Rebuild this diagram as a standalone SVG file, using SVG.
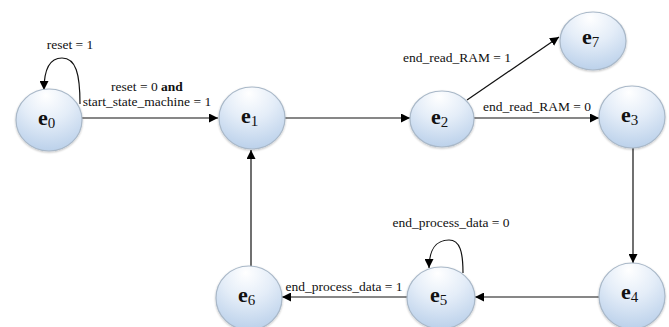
<svg xmlns="http://www.w3.org/2000/svg" width="669" height="327" viewBox="0 0 669 327">
  <defs>
    <radialGradient id="nodeFill" cx="0.5" cy="0.2" r="0.85" fx="0.45" fy="0.1">
      <stop offset="0" stop-color="#ffffff"/>
      <stop offset="0.45" stop-color="#e4edf8"/>
      <stop offset="1" stop-color="#b7cee9"/>
    </radialGradient>
    <filter id="soft" x="-20%" y="-20%" width="140%" height="140%">
      <feGaussianBlur in="SourceAlpha" stdDeviation="1.2"/>
      <feOffset dx="0" dy="1" result="b"/>
      <feComponentTransfer><feFuncA type="linear" slope="0.25"/></feComponentTransfer>
      <feMerge><feMergeNode/><feMergeNode in="SourceGraphic"/></feMerge>
    </filter>
    <marker id="arrow" viewBox="0 0 10 10" refX="10" refY="5" markerWidth="9" markerHeight="9" markerUnits="userSpaceOnUse" orient="auto">
      <path d="M0,0 L10,5 L0,10 Z" fill="#000"/>
    </marker>
  </defs>
  <style>
    text { font-family: "Liberation Serif", "DejaVu Serif", "Times New Roman", serif; fill: #111; }
    .node ellipse { fill: url(#nodeFill); stroke: #a9b8c8; stroke-width: 1.2; filter: url(#soft); }
    .name { font-weight: bold; font-size: 22px; }
    .idx { font-size: 15px; }
    .edge { fill: none; stroke: #111; stroke-width: 1.2; marker-end: url(#arrow); }
    .lbl { font-size: 13.5px; text-anchor: middle; }
  </style>
  <rect width="669" height="327" fill="#fff"/>

  <!-- transitions -->
  <g id="connectors">
    <path class="edge" d="M80,104 C80,74 76,58 62,58 C50,58 44,68 44,90"/>
    <path class="edge" d="M82,118 L218,118"/>
    <path class="edge" d="M285,118 L410,118"/>
    <path class="edge" d="M467,100 L559,37"/>
    <path class="edge" d="M474,118 L599,118"/>
    <path class="edge" d="M633,148 L633,263"/>
    <path class="edge" d="M599,297 L475,297"/>
    <path class="edge" d="M408,297 L282,297"/>
    <path class="edge" d="M463,273 C463,252 460,240 449,240 C436,240 429,250 429,268"/>
    <path class="edge" d="M251,266 L251,150"/>

    <text class="lbl" x="70" y="49" font-family="Liberation Serif, serif">reset = 1</text>
    <text class="lbl" x="147" y="91" font-family="Liberation Serif, serif">reset = 0 <tspan font-weight="bold">and</tspan></text>
    <text class="lbl" x="147" y="106" font-family="Liberation Serif, serif">start_state_machine = 1</text>
    <text class="lbl" x="457" y="62" font-family="Liberation Serif, serif">end_read_RAM = 1</text>
    <text class="lbl" x="537" y="111" font-family="Liberation Serif, serif">end_read_RAM = 0</text>
    <text class="lbl" x="451" y="227" font-family="Liberation Serif, serif">end_process_data = 0</text>
    <text class="lbl" x="344" y="291" font-family="Liberation Serif, serif">end_process_data = 1</text>
  </g>

  <g id="e0" class="node">
    <ellipse cx="49" cy="120" rx="33" ry="31"/>
    <text x="38" y="125"><tspan class="name">e</tspan><tspan class="idx" dy="3">0</tspan></text>
  </g>
  <g id="e1" class="node">
    <ellipse cx="252" cy="118" rx="33" ry="31"/>
    <text x="241" y="123"><tspan class="name">e</tspan><tspan class="idx" dy="3">1</tspan></text>
  </g>
  <g id="e2" class="node">
    <ellipse cx="442" cy="119" rx="32" ry="28"/>
    <text x="431" y="124"><tspan class="name">e</tspan><tspan class="idx" dy="3">2</tspan></text>
  </g>
  <g id="e3" class="node">
    <ellipse cx="632" cy="117" rx="33" ry="31"/>
    <text x="621" y="122"><tspan class="name">e</tspan><tspan class="idx" dy="3">3</tspan></text>
  </g>
  <g id="e7" class="node">
    <ellipse cx="593" cy="41" rx="33" ry="29"/>
    <text x="582" y="44"><tspan class="name">e</tspan><tspan class="idx" dy="3">7</tspan></text>
  </g>
  <g id="e4" class="node">
    <ellipse cx="632" cy="296" rx="33" ry="33"/>
    <text x="621" y="299"><tspan class="name">e</tspan><tspan class="idx" dy="3">4</tspan></text>
  </g>
  <g id="e5" class="node">
    <ellipse cx="441" cy="298" rx="34" ry="31"/>
    <text x="430" y="302"><tspan class="name">e</tspan><tspan class="idx" dy="3">5</tspan></text>
  </g>
  <g id="e6" class="node">
    <ellipse cx="249" cy="298" rx="33" ry="32"/>
    <text x="238" y="302"><tspan class="name">e</tspan><tspan class="idx" dy="3">6</tspan></text>
  </g>
</svg>
